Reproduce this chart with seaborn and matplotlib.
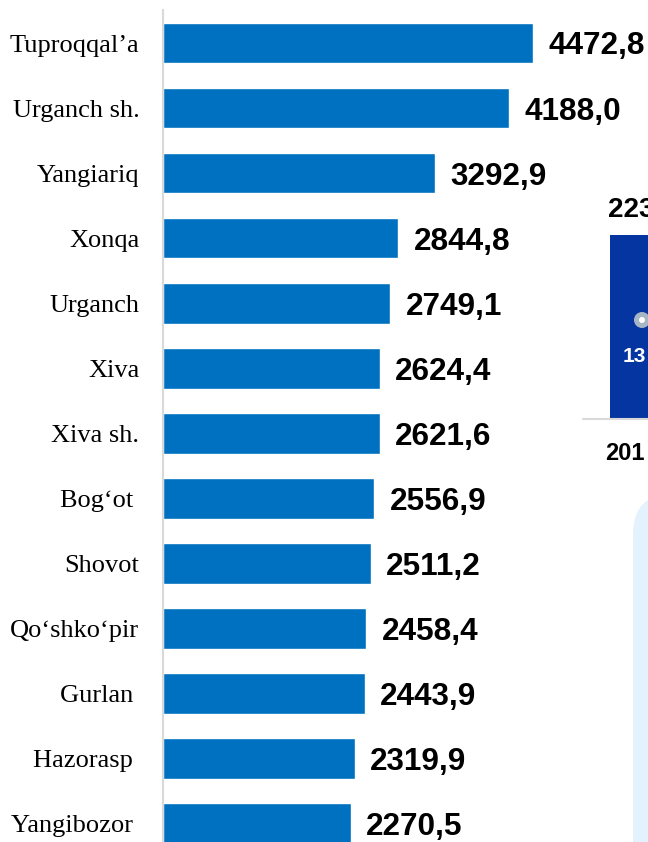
import matplotlib
matplotlib.use("Agg")
import matplotlib.pyplot as plt
import seaborn as sns
import pandas as pd
from matplotlib.patches import Rectangle, Circle, FancyBboxPatch
from matplotlib.lines import Line2D

# data
districts = ["Tuproqqal\u2019a", "Urganch sh.", "Yangiariq", "Xonqa", "Urganch",
             "Xiva", "Xiva sh.", "Bog\u2018ot ", "Shovot", "Qo\u2018shko\u2018pir",
             "Gurlan ", "Hazorasp ", "Yangibozor "]
values = [4472.8, 4188.0, 3292.9, 2844.8, 2749.1, 2624.4, 2621.6,
          2556.9, 2511.2, 2458.4, 2443.9, 2319.9, 2270.5]

df = pd.DataFrame({"district": districts, "value": values})

sns.set_style("white")
plt.rcParams["font.family"] = ["Liberation Serif", "DejaVu Serif"]
plt.rcParams["text.color"] = "black"

W, H = 648, 842
fig = plt.figure(figsize=(W / 100, H / 100), dpi=100)
ax = fig.add_axes([163 / W, 1 - 856.1 / H, 485 / W, 845.6 / H])

sns.barplot(data=df, y="district", x="value", orient="h", color="#0070C0",
            width=0.624, saturation=1, ax=ax)

ax.set_xlim(0, 5867)
ax.set_ylim(12.5, -0.5)
ax.set_xlabel("")
ax.set_ylabel("")
ax.set_xticks([])
ax.tick_params(axis="y", length=0, pad=17, labelsize=19, labelcolor="black")
for lab in ax.get_yticklabels():
    lab.set_fontfamily(["Liberation Serif", "DejaVu Serif"])

for s in ["top", "right", "bottom"]:
    ax.spines[s].set_visible(False)
ax.spines["left"].set_color("#d9d9d9")
ax.spines["left"].set_linewidth(1.5)

# value labels, comma as decimal mark
for i, v in enumerate(values):
    ax.annotate(f"{v:.1f}".replace(".", ","), xy=(v, i), xytext=(11, -2.5),
                textcoords="offset points", ha="left", va="center",
                fontsize=22.7, fontweight="bold",
                family=["Liberation Sans", "DejaVu Sans"], color="black")

# pieces of the neighbouring chart that are cut off at the right edge
fig.add_artist(FancyBboxPatch((633, -60), 120, H - 494 + 60,
                              boxstyle="round,pad=0,rounding_size=40",
                              facecolor="#e4f2fd", edgecolor="none",
                              transform=None))
fig.add_artist(Rectangle((610, H - 418), 60, 183, facecolor="#0535a0",
                         edgecolor="none", transform=None))
fig.add_artist(Line2D([583, 648], [H - 418.5, H - 418.5], color="#d9d9d9",
                      lw=1.5, transform=None))
fig.add_artist(Circle((642, H - 320), 8, facecolor="#a7b6c5",
                      edgecolor="none", transform=None))
fig.add_artist(Circle((642, H - 320), 3, facecolor="white",
                      edgecolor="none", transform=None))
fig.text(608 / W, 1 - 217 / H, "223", fontsize=20, fontweight="bold",
         color="black", family=["Liberation Sans", "DejaVu Sans"],
         ha="left", va="baseline")
fig.text(623 / W, 1 - 362 / H, "13", fontsize=15, fontweight="bold",
         color="white", family=["Liberation Sans", "DejaVu Sans"],
         ha="left", va="baseline")
fig.text(605 / W, 1 - 460 / H, "201", fontsize=17, fontweight="bold",
         color="black", family=["Liberation Sans", "DejaVu Sans"],
         ha="left", va="baseline")

plt.savefig("out.png", dpi=100)
